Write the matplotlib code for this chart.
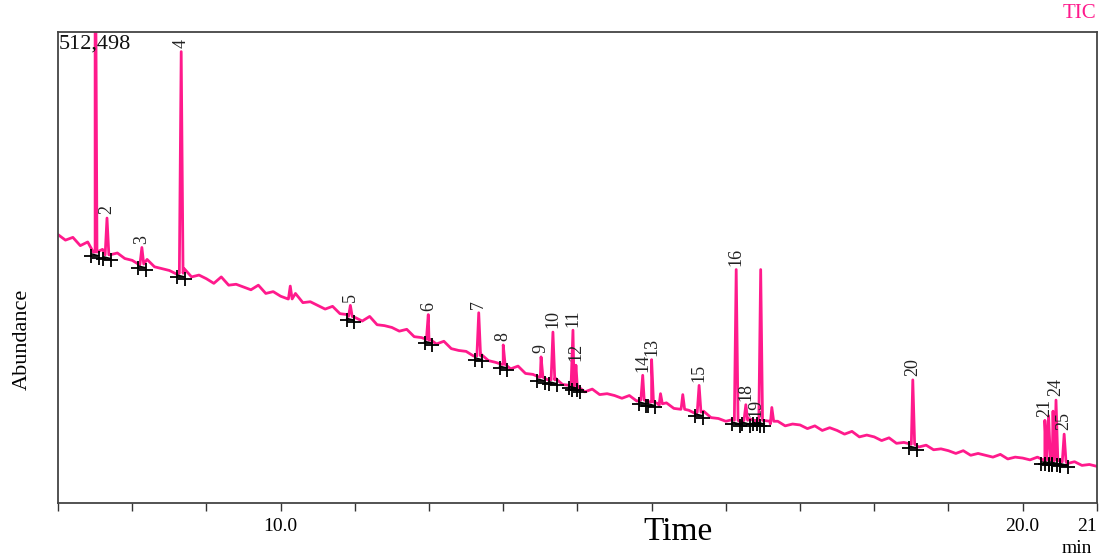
import matplotlib
matplotlib.use("Agg")
import matplotlib.pyplot as plt
import numpy as np

plt.rcParams['font.family'] = ['Liberation Serif', 'DejaVu Serif']

# baseline trace, every 0.1 min from 7.0 to 21.0 (abundance in thousands)
base_start = 7.0
base_step = 0.1
base_k = [
    292, 286, 289, 280, 284, 273, 276, 270, 272, 266,
    264, 259, 265, 257, 255, 253, 249, 255, 246, 248,
    244, 239, 246, 237, 238, 235, 232, 237, 228, 230,
    225, 222, 228, 218, 219, 215, 211, 214, 206, 205,
    202, 198, 203, 194, 193, 191, 187, 189, 181, 180,
    177, 173, 176, 168, 166, 165, 160, 162, 155, 153,
    151, 146, 149, 141, 140, 137, 134, 136, 129, 128,
    125, 121, 124, 118, 119, 117, 114, 117, 111, 112,
    110, 106, 109, 103, 104, 101, 97, 100, 93, 92,
    89, 91, 88, 92, 89, 90, 86, 89, 84, 86,
    85, 81, 84, 79, 82, 79, 75, 78, 72, 74,
    72, 68, 71, 65, 66, 64, 61, 63, 58, 59,
    57, 54, 57, 52, 54, 52, 50, 53, 48, 50,
    49, 47, 50, 45, 47, 46, 43, 45, 41, 42,
    40,
]

# labelled peaks: retention time (min), apex and local base (thousands)
peak_labels = ["1", "2", "3", "4", "5", "6", "7", "8", "9", "10", "11", "12", "13",
               "14", "15", "16", "17", "18", "19", "20", "21", "22", "23", "24", "25"]
peak_rt = [7.50, 7.66, 8.13, 8.66, 10.94, 11.99, 12.67, 13.00, 13.51, 13.67, 13.94, 13.98,
           15.00, 14.88, 15.64, 16.14, 16.47, 16.27, 16.41, 18.52, 20.30, 20.35, 20.41,
           20.45, 20.56]
peak_apex_k = [700, 310, 278, 491, 215, 205, 207, 172, 159, 186, 188, 150,
               156, 139, 128, 254, 254, 107, 90, 134, 90, 95, 100, 112, 75]
peak_base_k = [273, 270, 260, 250, 203, 178, 160, 151, 137, 134, 129, 127,
               110, 112, 99, 90, 90, 90, 90, 64, 47, 47, 47, 46, 45]
show_label = ([False] + [True] * 15 + [False] + [True] * 4
              + [False, False] + [True] * 2)

# small unlabelled spikes
minor_rt = [10.13, 15.12, 15.42, 16.62]
minor_apex_k = [236, 119, 118, 104]
minor_base_k = [222, 108, 102, 89]

y_max = 512498
trace_color = '#ff1a8c'

# assemble trace points
pts = [(base_start + i * base_step, v) for i, v in enumerate(base_k)]
w = 0.025
for t, a, b in zip(peak_rt, peak_apex_k, peak_base_k):
    pts += [(t - w, b), (t, a), (t + w, b)]
for t, a, b in zip(minor_rt, minor_apex_k, minor_base_k):
    pts += [(t - w, b), (t, a), (t + w, b)]
pts.sort()
tx = np.array([p[0] for p in pts])
ty = np.array([p[1] for p in pts]) * 1000

fig = plt.figure(figsize=(10.99, 5.59), dpi=100)
ax = fig.add_axes([0.0528, 0.100, 0.9452, 0.843])

ax.plot(tx, ty, color=trace_color, lw=2.0, zorder=2)

# integration marks
for t, a, b, lab, show in zip(peak_rt, peak_apex_k, peak_base_k, peak_labels, show_label):
    t0, t1 = t - 0.05, t + 0.05
    ax.plot([t0, t1], [b * 1000 - 2000, b * 1000 - 4000], color='black', lw=1.0, zorder=3)
    ax.plot([t0, t1], [b * 1000 - 4000, b * 1000 - 6000], ls='none', marker='+',
            ms=10, mew=1.3, color='black', zorder=3)
    if show:
        ax.text(t, a * 1000 + 4000, lab, rotation=90, ha='center', va='bottom',
                fontsize=13, color='#222222')

ax.set_xlim(7, 21)
ax.set_ylim(0, y_max)
ax.set_yticks([])
ticks = list(range(7, 22))
ax.set_xticks(ticks)
ax.set_xticklabels(['10.0' if t == 10 else '20.0' if t == 20 else '21' if t == 21 else ''
                    for t in ticks], fontsize=14)
ax.get_xticklabels()[-1].set_horizontalalignment('right')
ax.tick_params(axis='x', direction='out', length=6, width=1.0, color='#333333', pad=5)
for s in ax.spines.values():
    s.set_color('#444444')
    s.set_linewidth(1.3)

ax.text(0.001, 0.995, '512,498', transform=ax.transAxes, ha='left', va='top',
        fontsize=16, color='#111111')
fig.text(0.982, 0.975, 'TIC', color=trace_color, fontsize=15, ha='center', va='center')
fig.text(0.617, 0.048, 'Time', fontsize=24, ha='center', va='center')
fig.text(0.980, 0.018, 'min', fontsize=14, ha='center', va='center')
fig.text(0.020, 0.392, 'Abundance', fontsize=16, rotation=90, ha='center', va='center')

fig.savefig('out.png', dpi=100)
